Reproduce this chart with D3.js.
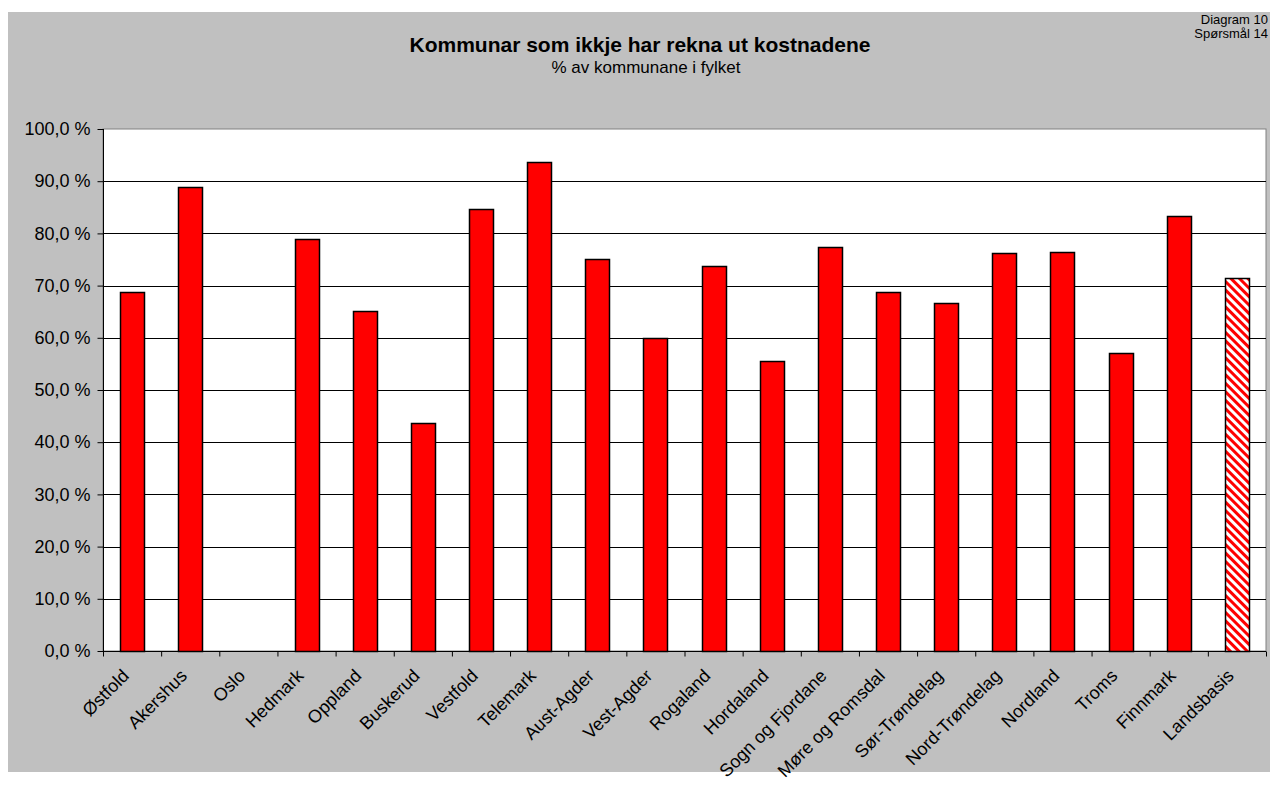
<!DOCTYPE html>
<html lang="no">
<head>
<meta charset="utf-8">
<script src="https://cdn.jsdelivr.net/npm/d3@7"></script>
<style>
  body { margin: 0; background: #fff; }
  svg text { font-family: "Liberation Sans", Arial, sans-serif; fill: #000; }
</style>
</head>
<body>
<div id="chart"></div>
<script>
// data
const fylker = ["Østfold", "Akershus", "Oslo", "Hedmark", "Oppland", "Buskerud", "Vestfold",
  "Telemark", "Aust-Agder", "Vest-Agder", "Rogaland", "Hordaland", "Sogn og Fjordane",
  "Møre og Romsdal", "Sør-Trøndelag", "Nord-Trøndelag", "Nordland", "Troms", "Finnmark", "Landsbasis"];
const andel = [68.8, 88.9, 0, 78.9, 65.2, 43.7, 84.6, 93.7, 75.1, 60.0, 73.7, 55.6, 77.3,
  68.8, 66.7, 76.2, 76.5, 57.1, 83.4, 71.4];
const yTicks = [0, 10, 20, 30, 40, 50, 60, 70, 80, 90, 100];

const W = 1270, H = 788;
const pLeft = 103, pRight = 1266, pTop = 129, pBottom = 651;

const svg = d3.select("#chart").append("svg")
  .attr("width", W).attr("height", H);

const defs = svg.append("defs");
const pat = defs.append("pattern")
  .attr("id", "hatch")
  .attr("patternUnits", "userSpaceOnUse")
  .attr("width", 6).attr("height", 6)
  .attr("patternTransform", "rotate(-45)");
pat.append("rect").attr("width", 6).attr("height", 6).attr("fill", "#fff");
pat.append("rect").attr("width", 3).attr("height", 6).attr("fill", "#ff0000");

// grey chart area
svg.append("rect")
  .attr("x", 8).attr("y", 12).attr("width", W - 8).attr("height", 760)
  .attr("fill", "#c0c0c0");

// titles
svg.append("text").attr("x", 640).attr("y", 52)
  .attr("text-anchor", "middle").attr("font-size", 21).attr("font-weight", "bold")
  .text("Kommunar som ikkje har rekna ut kostnadene");
svg.append("text").attr("x", 646).attr("y", 73)
  .attr("text-anchor", "middle").attr("font-size", 17)
  .text("% av kommunane i fylket");
svg.append("text").attr("x", 1268).attr("y", 24)
  .attr("text-anchor", "end").attr("font-size", 13).text("Diagram 10");
svg.append("text").attr("x", 1268).attr("y", 38)
  .attr("text-anchor", "end").attr("font-size", 13).text("Spørsmål 14");

const x = d3.scaleBand().domain(fylker).range([pLeft, pRight]);
const y = d3.scaleLinear().domain([0, 100]).range([pBottom, pTop]);

// plot area
svg.append("rect")
  .attr("x", pLeft).attr("y", pTop).attr("width", pRight - pLeft).attr("height", pBottom - pTop)
  .attr("fill", "#fff").attr("stroke", "#808080").attr("stroke-width", 1);

// gridlines
svg.append("g").selectAll("line")
  .data(yTicks.filter(d => d > 0 && d < 100))
  .join("line")
  .attr("x1", pLeft).attr("x2", pRight)
  .attr("y1", d => Math.round(y(d)) + 0.5).attr("y2", d => Math.round(y(d)) + 0.5)
  .attr("stroke", "#000");

// bars
const barW = 24;
svg.append("g").selectAll("rect")
  .data(fylker.map((f, i) => ({ f, v: andel[i] })).filter(d => d.v > 0))
  .join("rect")
  .attr("x", d => Math.round(x(d.f) + x.bandwidth() / 2 - barW / 2) + 0.5)
  .attr("y", d => Math.round(y(d.v)) + 0.5)
  .attr("width", barW)
  .attr("height", d => Math.round(y(0)) - Math.round(y(d.v)))
  .attr("fill", d => d.f === "Landsbasis" ? "url(#hatch)" : "#ff0000")
  .attr("stroke", "#000").attr("stroke-width", 1.5);

// y axis
const yAxis = d3.axisLeft(y).tickValues(yTicks).tickSize(6).tickPadding(7)
  .tickFormat(d => d.toFixed(1).replace(".", ",") + " %");
const gy = svg.append("g").attr("transform", `translate(${pLeft + 0.5},0)`).call(yAxis);
gy.select(".domain").attr("stroke", "#000").attr("d", `M0,${pTop}V${pBottom}`);
gy.selectAll("text").attr("font-size", 18).attr("font-family", "Liberation Sans, Arial, sans-serif");

// x axis
const xAxis = d3.axisBottom(x).tickSize(0).tickFormat("");
const gx = svg.append("g").attr("transform", `translate(0,${pBottom + 0.5})`).call(xAxis);
gx.select(".domain").attr("stroke", "#000").attr("d", `M${pLeft},0H${pRight}`);
gx.selectAll("line.bnd")
  .data(d3.range(fylker.length + 1))
  .join("line").attr("class", "bnd")
  .attr("x1", i => pLeft + i * x.step() + 0.5).attr("x2", i => pLeft + i * x.step() + 0.5)
  .attr("y1", 0).attr("y2", 5).attr("stroke", "#000");

svg.append("g").selectAll("text")
  .data(fylker)
  .join("text")
  .attr("transform", d => `translate(${x(d) + x.bandwidth() / 2 - 2},${pBottom + 26}) rotate(-45)`)
  .attr("text-anchor", "end")
  .attr("font-size", 18)
  .text(d => d);
</script>
</body>
</html>
